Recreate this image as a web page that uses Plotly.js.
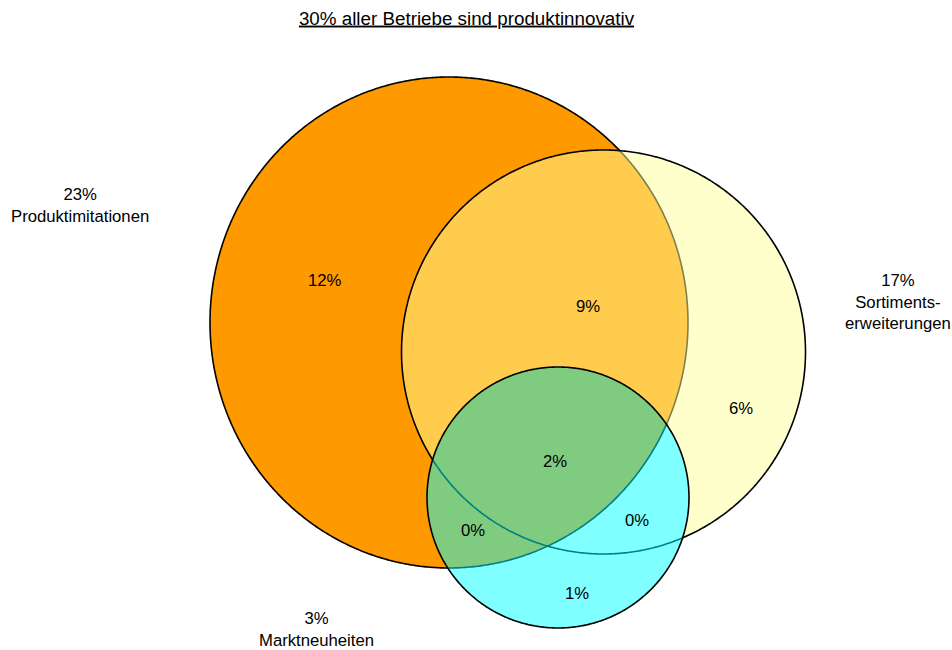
<!DOCTYPE html>
<html>
<head>
<meta charset="utf-8">
<script src="https://cdn.plot.ly/plotly-3.0.1.min.js"></script>
<style>html,body{margin:0;padding:0;background:#fff;}#chart{width:952px;height:650px;}</style>
</head>
<body>
<div id="chart"></div>
<script>
// ---- data ----
const titleText = '30% aller Betriebe sind produktinnovativ';
const setNames = ['Produktimitationen', 'Sortiments-<br>erweiterungen', 'Marktneuheiten'];
const setShares = [23, 17, 3];
const regionNames = ['nur Imitationen', 'Imitationen + Sortiment', 'nur Sortiment', 'alle drei', 'Imitationen + Markt', 'Sortiment + Markt', 'nur Markt'];
const regionShares = [12, 9, 6, 2, 0, 0, 1];

// ---- layout geometry (diagram coordinates) ----
const circles = [
  {cx: 449, cy: 322.5, rx: 239, ry: 245.5},
  {cx: 603.5, cy: 352, rx: 202, ry: 202},
  {cx: 558, cy: 497.5, rx: 131, ry: 130.5}
];
const setLabelPos = [[80, 205.5], [898, 302], [316, 629]];
const regionLabelPos = [[325, 280], [588, 306], [741, 408], [555, 461], [473, 530], [637, 520], [577, 593]];

const N = 720;
function ellipsePts(c) {
  const pts = [];
  for (let i = 0; i < N; i++) {
    const t = 2 * Math.PI * i / N;
    pts.push([c.cx + c.rx * Math.cos(t), c.cy + c.ry * Math.sin(t)]);
  }
  return pts;
}
function inside(c, p) {
  const dx = (p[0] - c.cx) / c.rx, dy = (p[1] - c.cy) / c.ry;
  return dx * dx + dy * dy <= 1.000001;
}
function lens(a, b) {
  const pts = ellipsePts(a).filter(p => inside(b, p)).concat(ellipsePts(b).filter(p => inside(a, p)));
  let mx = 0, my = 0;
  pts.forEach(p => { mx += p[0]; my += p[1]; });
  mx /= pts.length; my /= pts.length;
  pts.sort((p, q) => Math.atan2(p[1] - my, p[0] - mx) - Math.atan2(q[1] - my, q[0] - mx));
  return pts;
}
function toPath(pts) {
  return 'M' + pts.map(p => p[0].toFixed(2) + ',' + p[1].toFixed(2)).join('L') + 'Z';
}

const pathA = toPath(ellipsePts(circles[0]));
const pathB = toPath(ellipsePts(circles[1]));
const pathC = toPath(ellipsePts(circles[2]));
const pathBminusC = pathB + toPath(lens(circles[1], circles[2]));

const lineW = 1.6;
const shapes = [
  {type: 'path', path: pathA, fillcolor: '#FF9900', line: {color: 'black', width: lineW}, xref: 'x', yref: 'y', layer: 'above'},
  {type: 'path', path: pathBminusC, fillcolor: 'rgba(255,255,153,0.5)', fillrule: 'evenodd', line: {width: 0}, xref: 'x', yref: 'y', layer: 'above'},
  {type: 'path', path: pathB, fillcolor: 'rgba(0,0,0,0)', line: {color: 'black', width: lineW}, xref: 'x', yref: 'y', layer: 'above'},
  {type: 'path', path: pathC, fillcolor: 'rgba(0,255,255,0.5)', line: {color: 'black', width: lineW}, xref: 'x', yref: 'y', layer: 'above'}
];

const font = {family: 'Liberation Sans, Arial, sans-serif', size: 16.7, color: 'black'};
const titleFont = {family: 'Liberation Sans, Arial, sans-serif', size: 18.8, color: 'black'};
const annotations = [];
setNames.forEach((n, i) => {
  annotations.push({x: setLabelPos[i][0], y: setLabelPos[i][1], xref: 'x', yref: 'y',
    text: setShares[i] + '%<br>' + n, showarrow: false, font: font, align: 'center'});
});
regionShares.forEach((v, i) => {
  annotations.push({x: regionLabelPos[i][0], y: regionLabelPos[i][1], xref: 'x', yref: 'y',
    text: v + '%', showarrow: false, font: font, hovertext: regionNames[i]});
});

const layout = {
  width: 952, height: 650,
  margin: {l: 0, r: 0, t: 0, b: 0},
  paper_bgcolor: 'white', plot_bgcolor: 'white',
  showlegend: false,
  title: {text: '<u>' + titleText + '</u>', font: titleFont, x: 466.5 / 952, xanchor: 'center', xref: 'paper', y: 1 - 18 / 650, yanchor: 'middle', yref: 'container'},
  xaxis: {range: [0, 952], visible: false, fixedrange: true},
  yaxis: {range: [650, 0], visible: false, fixedrange: true},
  shapes: shapes,
  annotations: annotations
};

Plotly.newPlot('chart', [{x: [], y: [], type: 'scatter', mode: 'markers', hoverinfo: 'skip'}], layout, {staticPlot: true, displayModeBar: false});
</script>
</body>
</html>
